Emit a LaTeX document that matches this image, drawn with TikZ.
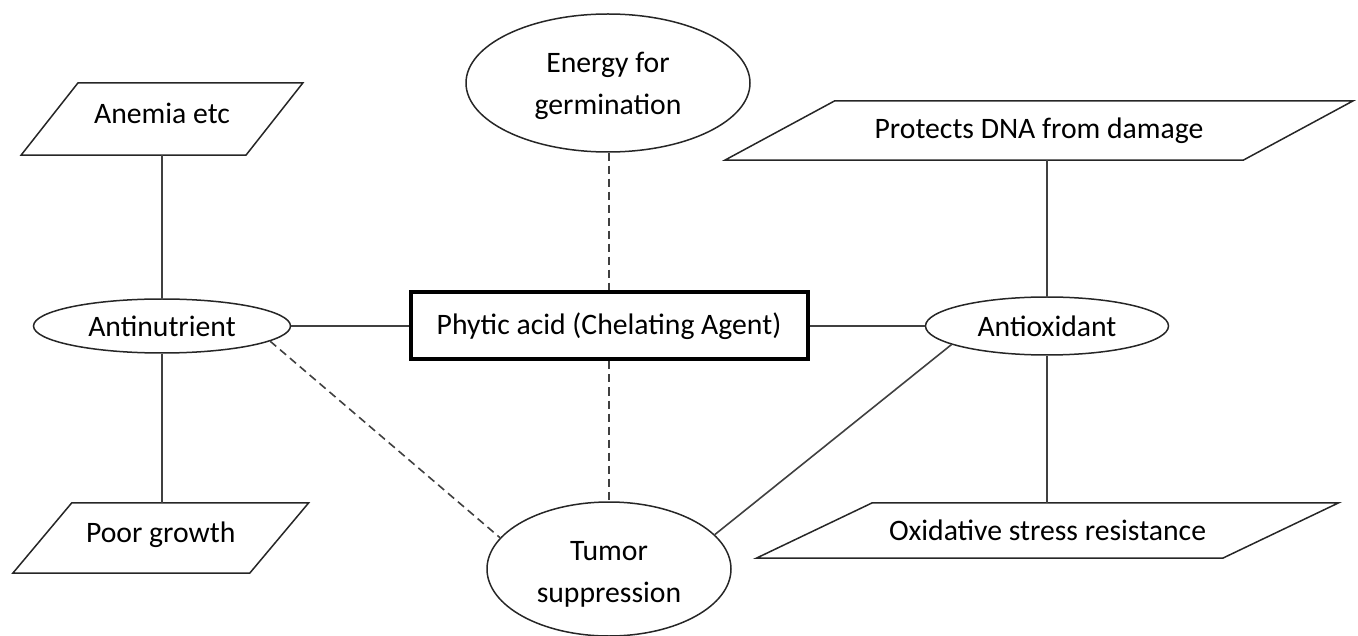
\documentclass[tikz,border=0pt]{standalone}
\usepackage{fontspec}
\setmainfont{Carlito}
\usetikzlibrary{shapes.geometric,calc}
\begin{document}
\begin{tikzpicture}[x=1pt,y=-1pt,
  every node/.style={font=\fontsize{29.7}{42}\selectfont, inner sep=0pt, align=center, text=black},
  conn/.style={draw=black!75, line width=1.6pt},
  dashconn/.style={conn, dash pattern=on 8pt off 5pt},
  oval/.style={ellipse, draw=black!85, line width=1.5pt},
  para/.style={rectangle},
  parashape/.style={draw=black!85, line width=1.5pt, line join=miter},
  mainbox/.style={rectangle, draw=black, line width=4pt}
]
\useasboundingbox (0,0) rectangle (1358,636);

% nodes
\node[mainbox, minimum width=397pt, minimum height=67pt] (phytic) at (609,326) {Phytic acid (Chelating Agent)};
\node[oval, minimum width=257pt, minimum height=54pt] (antinut) at (162,326) {Antinutrient};
\node[oval, minimum width=243pt, minimum height=58pt] (antiox) at (1047,326) {Antioxidant};
\node[oval, minimum width=284pt, minimum height=138pt] (energy) at (608,83) {\rule{0pt}{27pt}Energy for\\germination};
\node[oval, minimum width=244pt, minimum height=134pt] (tumor) at (609,569) {\rule{0pt}{30pt}Tumor\\suppression};

\node[para, minimum width=224.5pt, minimum height=72pt, text depth=12pt] (anemia) at (162,119) {Anemia etc};
\node[para, minimum width=236.5pt, minimum height=70pt, text depth=11pt] (poor) at (160.75,538) {Poor growth};
\node[para, minimum width=518pt, minimum height=59pt] (dna) at (1039,130.5) {Protects DNA from damage};
\node[para, minimum width=466pt, minimum height=55pt] (oxid) at (1047.5,530.5) {Oxidative stress resistance};

% parallelogram outlines
\draw[parashape] ($(anemia.north west)+(28.5,0)$) -- ($(anemia.north east)+(28.5,0)$) -- ($(anemia.south east)-(28.5,0)$) -- ($(anemia.south west)-(28.5,0)$) -- cycle;
\draw[parashape] ($(poor.north west)+(29.5,0)$) -- ($(poor.north east)+(29.5,0)$) -- ($(poor.south east)-(29.5,0)$) -- ($(poor.south west)-(29.5,0)$) -- cycle;
\draw[parashape] ($(dna.north west)+(55,0)$) -- ($(dna.north east)+(55,0)$) -- ($(dna.south east)-(55,0)$) -- ($(dna.south west)-(55,0)$) -- cycle;
\draw[parashape] ($(oxid.north west)+(58,0)$) -- ($(oxid.north east)+(58,0)$) -- ($(oxid.south east)-(58,0)$) -- ($(oxid.south west)-(58,0)$) -- cycle;

% connectors
\draw[conn] (antinut.north) -- (antinut.north |- anemia.south);
\draw[conn] (antinut.south) -- (antinut.south |- poor.north);
\draw[conn] (antinut.east) -- (phytic.west);
\draw[conn] (phytic.east) -- (antiox.west);
\draw[conn] (antiox.north) -- (antiox.north |- dna.south);
\draw[conn] (antiox.south) -- (antiox.south |- oxid.north);
\draw[dashconn] (phytic.north |- energy.south) -- (phytic.north);
\draw[dashconn] (phytic.south) -- (tumor.north);
\draw[dashconn] (antinut.-8) -- (tumor.164);
\draw[conn] (antiox.191) -- (tumor.18);
\end{tikzpicture}
\end{document}
